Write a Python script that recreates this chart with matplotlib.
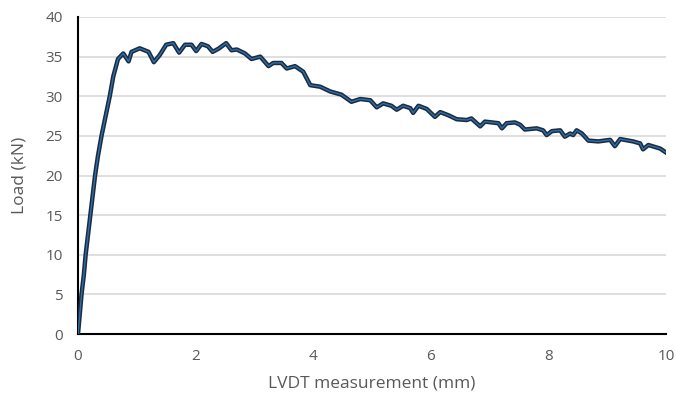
import matplotlib
matplotlib.use("Agg")
import matplotlib.pyplot as plt

# LVDT displacement (mm) and load (kN)
lvdt_mm = [0.00, 0.03, 0.06, 0.10, 0.13, 0.17, 0.21, 0.25, 0.29, 0.34, 0.40, 0.47,
           0.54, 0.60, 0.68, 0.77, 0.86, 0.91, 1.05, 1.20, 1.29, 1.39, 1.50, 1.62,
           1.72, 1.82, 1.93, 2.01, 2.10, 2.21, 2.29, 2.39, 2.52, 2.61, 2.70, 2.84,
           2.95, 3.10, 3.24, 3.32, 3.46, 3.55, 3.69, 3.83, 3.95, 4.12, 4.29, 4.48,
           4.65, 4.80, 4.97, 5.08, 5.19, 5.33, 5.42, 5.53, 5.65, 5.70, 5.79, 5.93,
           6.07, 6.16, 6.30, 6.44, 6.61, 6.69, 6.84, 6.92, 7.15, 7.21, 7.29, 7.43,
           7.52, 7.60, 7.80, 7.91, 7.97, 8.06, 8.20, 8.28, 8.37, 8.42, 8.48, 8.57,
           8.68, 8.85, 9.05, 9.13, 9.22, 9.44, 9.56, 9.61, 9.70, 9.90, 10.00]
load_kN = [0.0, 2.5, 5.0, 7.5, 10.0, 12.5, 15.0, 17.5, 20.0, 22.5, 25.0, 27.5,
           30.0, 32.5, 34.7, 35.4, 34.4, 35.6, 36.05, 35.6, 34.3, 35.2, 36.5, 36.7,
           35.5, 36.5, 36.5, 35.7, 36.6, 36.3, 35.6, 36.0, 36.7, 35.8, 35.9, 35.4,
           34.7, 35.0, 33.8, 34.2, 34.2, 33.5, 33.8, 33.1, 31.4, 31.2, 30.6, 30.2,
           29.3, 29.65, 29.5, 28.6, 29.1, 28.8, 28.3, 28.8, 28.5, 27.9, 28.8, 28.4,
           27.4, 28.0, 27.6, 27.1, 27.0, 27.2, 26.2, 26.8, 26.6, 25.95, 26.6, 26.7,
           26.4, 25.8, 25.95, 25.7, 25.1, 25.6, 25.7, 24.9, 25.3, 25.1, 25.7, 25.3,
           24.4, 24.3, 24.5, 23.7, 24.6, 24.3, 24.05, 23.3, 23.85, 23.4, 22.9]

x_ticks = [0, 2, 4, 6, 8, 10]
y_ticks = [0, 5, 10, 15, 20, 25, 30, 35, 40]

plt.rcParams['font.family'] = ['Open Sans', 'DejaVu Sans']

fig = plt.figure(figsize=(6.76, 3.95), dpi=100)
ax = fig.add_axes([78/676, 1-334/395, (666-78)/676, (334-17)/395])

ax.plot(lvdt_mm, load_kN, color='#1b2b40', lw=3.2, solid_joinstyle='round', zorder=3)
ax.plot(lvdt_mm, load_kN, color='#2f6fa8', lw=1.0, zorder=4)

ax.set_xlim(0, 10)
ax.set_ylim(0, 40)
ax.set_xticks(x_ticks)
ax.set_yticks(y_ticks)
ax.grid(axis='y', color='#d9d9d9', lw=1.2)
ax.set_axisbelow(True)
for s in ['top', 'right']:
    ax.spines[s].set_visible(False)
for s in ['left', 'bottom']:
    ax.spines[s].set_color('black')
    ax.spines[s].set_linewidth(1.5)
ax.tick_params(length=0, labelsize=11, labelcolor='#595959')
ax.tick_params(axis='x', pad=11)
ax.tick_params(axis='y', pad=11)
ax.set_xlabel('LVDT measurement (mm)', fontsize=12.5, color='#595959', labelpad=8)
ax.set_ylabel('Load (kN)', fontsize=12.5, color='#595959', labelpad=13)

fig.savefig('out.png', dpi=100)
